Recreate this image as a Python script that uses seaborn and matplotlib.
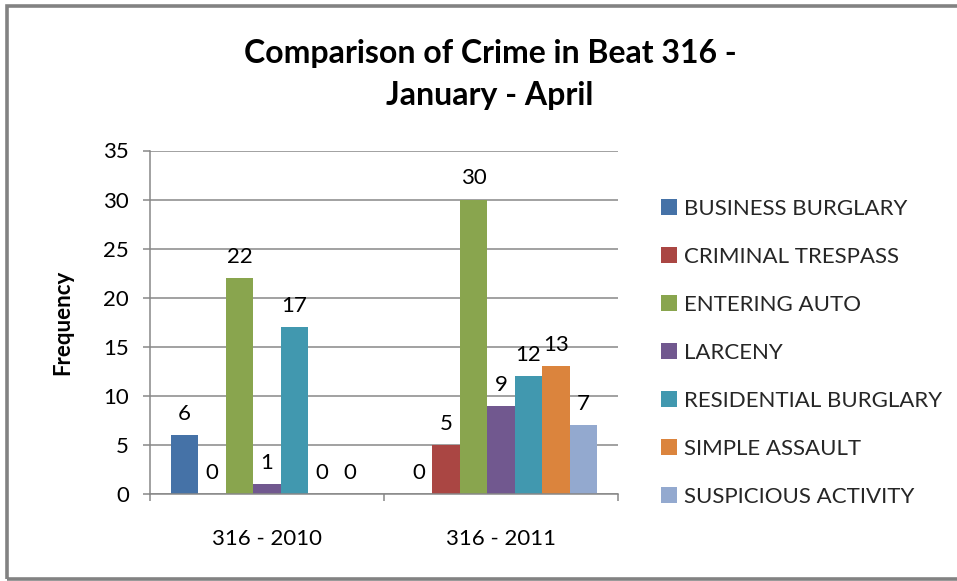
import matplotlib
matplotlib.use("Agg")
import matplotlib.pyplot as plt
from matplotlib.patches import Rectangle, Patch
from matplotlib.ticker import FixedLocator, MultipleLocator
import pandas as pd
import seaborn as sns

# Crime counts per beat-year
groups = ["316 - 2010", "316 - 2011"]
crimes = [
    "BUSINESS BURGLARY",
    "CRIMINAL TRESPASS",
    "ENTERING AUTO",
    "LARCENY",
    "RESIDENTIAL BURGLARY",
    "SIMPLE ASSAULT",
    "SUSPICIOUS ACTIVITY",
]
counts_2010 = [6, 0, 22, 1, 17, 0, 0]
counts_2011 = [0, 5, 30, 9, 12, 13, 7]
palette = ["#4572A7", "#AA4643", "#89A54E", "#71588F", "#4198AF", "#DB843D", "#93A9CF"]

rows = []
for grp, vals in zip(groups, [counts_2010, counts_2011]):
    for crime, v in zip(crimes, vals):
        rows.append({"Group": grp, "Crime": crime, "Frequency": v})
df = pd.DataFrame(rows)

sns.set_theme(style="white")
plt.rcParams["font.family"] = ["Lato", "DejaVu Sans"]

FS = 16
W, H = 957, 581
fig = plt.figure(figsize=(W / 100, H / 100), dpi=100)
ax = fig.add_axes([150 / W, 1 - 494 / H, (618 - 150) / W, (494 - 150.5) / H])

sns.barplot(
    data=df, x="Group", y="Frequency", hue="Crime",
    order=groups, hue_order=crimes, palette=palette,
    width=7 / 8.5, saturation=1, errorbar=None, legend=False, ax=ax,
)
for bar in ax.patches:
    bar.set_edgecolor("none")

for cont in ax.containers:
    ax.bar_label(cont, fmt="%d", padding=8, fontsize=FS, color="black")

ax.set_ylim(0, 35)
ax.set_xlim(-0.5, 1.5)
ax.yaxis.set_major_locator(MultipleLocator(5))
ax.grid(axis="y", color="#878787", linewidth=1.1)
ax.set_axisbelow(True)

for side in ["top", "right"]:
    ax.spines[side].set_visible(False)
for side in ["left", "bottom"]:
    ax.spines[side].set_color("#878787")
    ax.spines[side].set_linewidth(1.1)

ax.tick_params(axis="y", which="major", length=5, width=1.1, color="#878787",
               direction="out", pad=10, labelsize=FS, left=True)
ax.tick_params(axis="x", which="major", length=0, pad=25, labelsize=FS)
ax.xaxis.set_minor_locator(FixedLocator([-0.5, 0.5, 1.5]))
ax.tick_params(axis="x", which="minor", length=5, width=1.1, color="#878787",
               direction="out", bottom=True)
for lbl in ax.get_xticklabels() + ax.get_yticklabels():
    lbl.set_color("black")

ax.set_xlabel("")
ax.set_ylabel("Frequency", fontsize=FS, fontweight="bold", labelpad=22, color="black")

fig.text(490 / W, 1 - 74.5 / H, "Comparison of Crime in Beat 316 -\nJanuary - April",
         ha="center", va="center", fontsize=23, fontweight="bold",
         linespacing=1.56, color="black")

handles = [Patch(facecolor=c, edgecolor="none") for c in palette]
fig.legend(handles, crimes, loc="center left",
           bbox_to_anchor=(650 / W, 1 - 353 / H), frameon=False,
           fontsize=FS, handlelength=0.72, handleheight=0.72,
           handletextpad=0.3, labelspacing=1.26, borderpad=0)

fig.patches.append(Rectangle((7.5 / W, 1 - 578.5 / H), 1.2, (578.5 - 5.5) / H,
                             transform=fig.transFigure, fill=False,
                             edgecolor="#828282", linewidth=2.6, clip_on=False))

fig.savefig("out.png", dpi=100, facecolor="white")
